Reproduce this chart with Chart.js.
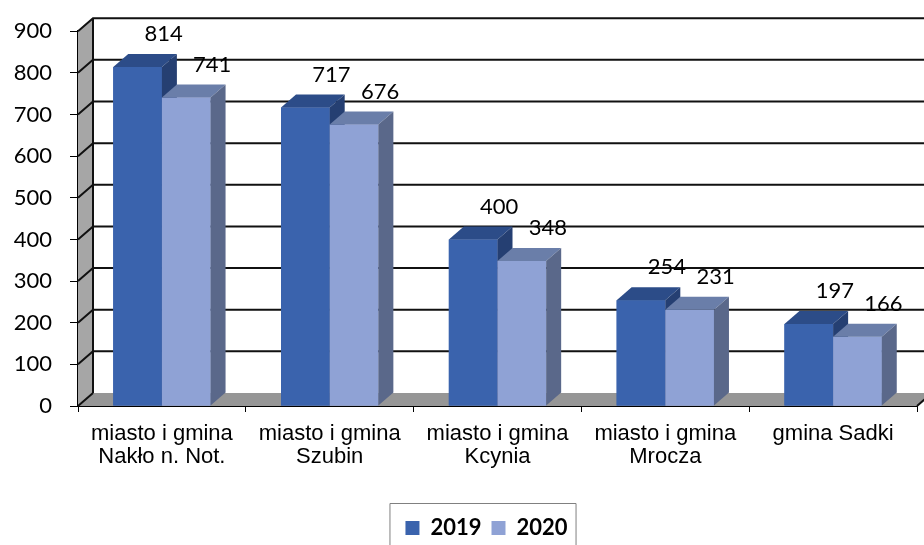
<!DOCTYPE html>
<html>
<head>
<meta charset="utf-8">
<script src="https://cdn.jsdelivr.net/npm/chart.js@4/dist/chart.umd.min.js"></script>
<style>
  html, body { margin: 0; padding: 0; background: #fff; }
  #wrap { width: 924px; height: 545px; }
</style>
</head>
<body>
<div id="wrap"><canvas id="chart"></canvas></div>
<script>
const categories = [
    ['miasto i gmina', 'Nakło n. Not.'],
    ['miasto i gmina', 'Szubin'],
    ['miasto i gmina', 'Kcynia'],
    ['miasto i gmina', 'Mrocza'],
    'gmina Sadki'
];
const values2019 = [814, 717, 400, 254, 197];
const values2020 = [741, 676, 348, 231, 166];
const seriesNames = ['2019', '2020'];
const yMax = 900;
const yStep = 100;

// 3D look
const DX = 15, DY = -13;
const faces = [
    { front: '#3a63ad', top: '#2c4c88', side: '#253f72' },
    { front: '#8fa2d5', top: '#6a7ea9', side: '#5a688a' }
];
const LEGEND_SHIFT = 28;

function poly(ctx, pts, fill) {
    ctx.beginPath();
    ctx.moveTo(pts[0][0], pts[0][1]);
    for (let i = 1; i < pts.length; i++) ctx.lineTo(pts[i][0], pts[i][1]);
    ctx.closePath();
    ctx.fillStyle = fill;
    ctx.fill();
}

const box3d = {
    id: 'box3d',
    afterLayout(chart) {
        // legend in the original sits a little right of the page centre
        chart.legend.left += LEGEND_SHIFT;
        chart.legend.right += LEGEND_SHIFT;
    },
    beforeDatasetsDraw(chart) {
        const ctx = chart.ctx;
        const y = chart.scales.y;
        const { left, right, top, bottom } = chart.chartArea;
        ctx.save();
        // side wall and floor
        poly(ctx, [[left, bottom], [left, top], [left + DX, top + DY], [left + DX, bottom + DY]], '#a6a6a6');
        poly(ctx, [[left, bottom], [right, bottom], [right + DX, bottom + DY], [left + DX, bottom + DY]], '#969696');
        ctx.strokeStyle = '#111';
        ctx.lineWidth = 2;
        for (let v = yStep; v <= yMax; v += yStep) {
            const py = y.getPixelForValue(v);
            ctx.beginPath();
            ctx.moveTo(left, py);
            ctx.lineTo(left + DX, py + DY);
            ctx.lineTo(chart.width + 5, py + DY);
            ctx.stroke();
        }
        ctx.beginPath();
        ctx.moveTo(left + DX, top + DY);
        ctx.lineTo(left + DX, bottom + DY);
        ctx.stroke();
        ctx.beginPath();
        ctx.moveTo(left, bottom);
        ctx.lineTo(left + DX, bottom + DY);
        ctx.moveTo(right, bottom);
        ctx.lineTo(right + DX, bottom + DY);
        ctx.stroke();
        ctx.restore();
    },
    afterDatasetsDraw(chart) {
        const ctx = chart.ctx;
        ctx.save();
        // redraw every bar as a box, series by series, so the later one hides the earlier side face
        categories.forEach((c, j) => {
            chart.data.datasets.forEach((ds, i) => {
                const f = faces[i];
                const p = chart.getDatasetMeta(i).data[j].getProps(['x', 'y', 'base', 'width'], true);
                const xl = p.x - p.width / 2, xr = p.x + p.width / 2;
                poly(ctx, [[xl, p.y], [xr, p.y], [xr, p.base], [xl, p.base]], f.front);
                poly(ctx, [[xl, p.y], [xr, p.y], [xr + DX, p.y + DY], [xl + DX, p.y + DY]], f.top);
                poly(ctx, [[xr, p.y], [xr + DX, p.y + DY], [xr + DX, p.base + DY], [xr, p.base]], f.side);
            });
        });
        ctx.fillStyle = '#000';
        ctx.font = '22px Lato';
        ctx.textAlign = 'center';
        ctx.textBaseline = 'middle';
        chart.data.datasets.forEach((ds, i) => {
            chart.getDatasetMeta(i).data.forEach((bar, j) => {
                ctx.fillText(String(ds.data[j]), bar.x + 26, bar.y - 33);
            });
        });
        ctx.restore();
    },
    afterDraw(chart) {
        const lg = chart.legend;
        if (!lg || !lg.legendHitBoxes.length) return;
        const hb = lg.legendHitBoxes;
        const l = hb[0].left - 16;
        const last = hb[hb.length - 1];
        const r = last.left + last.width + 8;
        const t = lg.top - 4;
        const ctx = chart.ctx;
        ctx.save();
        ctx.strokeStyle = '#808080';
        ctx.lineWidth = 1;
        ctx.beginPath();
        ctx.moveTo(l + 0.5, chart.height + 2);
        ctx.lineTo(l + 0.5, t + 0.5);
        ctx.lineTo(r + 0.5, t + 0.5);
        ctx.lineTo(r + 0.5, chart.height + 2);
        ctx.stroke();
        ctx.restore();
    }
};

new Chart(document.getElementById('chart'), {
    type: 'bar',
    data: {
        labels: categories,
        datasets: [
            { label: seriesNames[0], data: values2019, backgroundColor: faces[0].front },
            { label: seriesNames[1], data: values2020, backgroundColor: faces[1].front }
        ]
    },
    options: {
        responsive: true,
        maintainAspectRatio: false,
        animation: false,
        datasets: { bar: { categoryPercentage: 0.58, barPercentage: 1 } },
        layout: { padding: { top: 29, right: 7, left: 0, bottom: -4 } },
        scales: {
            x: {
                afterFit(scale) { scale.height = 101; },
                grid: { display: true, drawOnChartArea: false, drawTicks: true, tickLength: 6, color: '#000', offset: true },
                border: { display: true, color: '#000', width: 2 },
                ticks: {
                    color: '#000',
                    font: { family: 'Liberation Sans', size: 22, lineHeight: 1.05 },
                    padding: 10,
                    maxRotation: 0,
                    autoSkip: false
                }
            },
            y: {
                min: 0,
                max: yMax,
                afterFit(scale) { scale.width = 78; },
                grid: { display: true, drawOnChartArea: false, drawTicks: true, tickLength: 8, color: '#000' },
                border: { display: true, color: '#000', width: 2 },
                ticks: {
                    stepSize: yStep,
                    color: '#000',
                    font: { family: 'Lato', size: 22 },
                    padding: 18
                }
            }
        },
        plugins: {
            legend: {
                position: 'bottom',
                labels: {
                    color: '#000',
                    font: { family: 'Lato', size: 22, weight: 'bold' },
                    boxWidth: 14,
                    boxHeight: 14,
                    padding: 10
                }
            },
            tooltip: { enabled: false }
        }
    },
    plugins: [box3d]
});
</script>
</body>
</html>
